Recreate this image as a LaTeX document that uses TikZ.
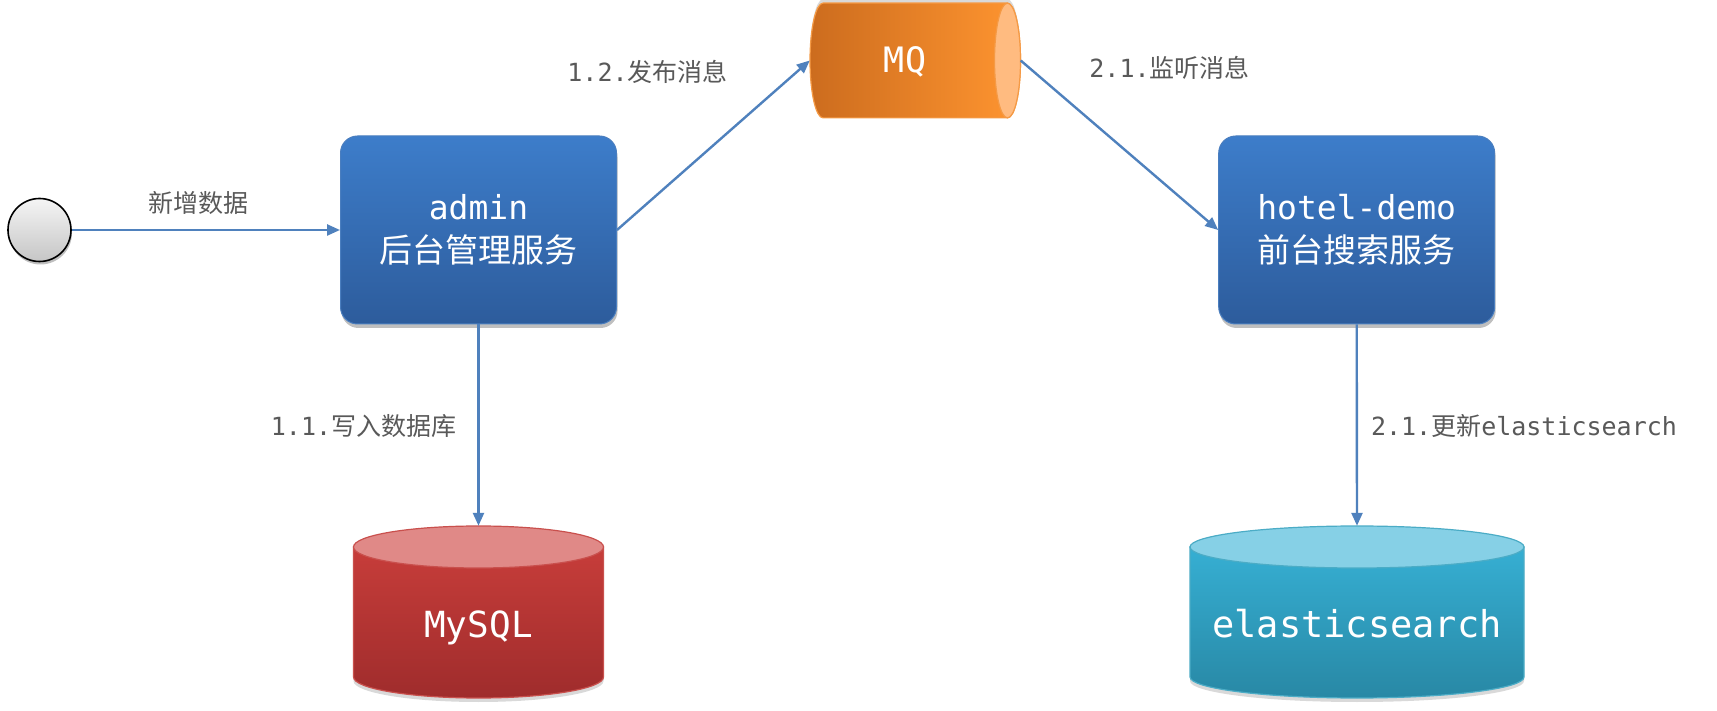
\documentclass[tikz,border=0pt]{standalone}
\usepackage{fontspec}
\setmonofont{DejaVu Sans Mono}
\newfontfamily\cjk{Noto Sans CJK SC}
\usetikzlibrary{arrows.meta,shadows}
\definecolor{arrowblue}{HTML}{4F81BD}
\definecolor{labelgray}{HTML}{595959}
\definecolor{boxtop}{HTML}{3D7DCA}
\definecolor{boxbot}{HTML}{2D5C9C}
\definecolor{boxedge}{HTML}{4A7EBF}
\definecolor{mqleft}{HTML}{CC6C1E}
\definecolor{mqright}{HTML}{FF9530}
\definecolor{mqcap}{HTML}{FFBB80}
\definecolor{mqedge}{HTML}{F59A45}
\definecolor{sqltop}{HTML}{C73D3A}
\definecolor{sqlbot}{HTML}{9F2C2C}
\definecolor{sqlcap}{HTML}{E08987}
\definecolor{sqledge}{HTML}{C9504D}
\definecolor{estop}{HTML}{36AFD3}
\definecolor{esbot}{HTML}{2888A5}
\definecolor{escap}{HTML}{86D0E6}
\definecolor{esedge}{HTML}{4BACC6}
\tikzset{
  svcbox/.style={rounded corners=17pt, minimum width=276pt, minimum height=188pt,
    inner sep=0pt, top color=boxtop, bottom color=boxbot, draw=boxedge, line width=1pt,
    text=white, align=center, font=\fontsize{33}{43}\selectfont,
    drop shadow={shadow xshift=1pt, shadow yshift=-4pt, opacity=0.25, fill=black}},
  flow/.style={draw=arrowblue, line width=2.4pt, -{Triangle[length=13pt,width=11pt]}},
  lbl/.style={text=labelgray, font=\fontsize{25}{30}\selectfont, inner sep=0pt},
  anchorbox/.style={inner sep=0pt, draw=none},
}
\begin{document}
\begin{tikzpicture}[x=1pt,y=1pt]
\useasboundingbox (0,0) rectangle (1717,710);
\fill[white] (0,0) rectangle (1717,710);

% start circle
\node (start) [circle, minimum size=63pt, inner sep=0pt, draw=black, line width=1.6pt,
  top color=white!92!gray, bottom color=gray!45,
  drop shadow={shadow xshift=1pt, shadow yshift=-3pt, opacity=0.25, fill=black}] at (39.5,480) {};

% service boxes
\node (admin) [svcbox] at (478.5,480) {\ttfamily admin\\\cjk 后台管理服务};
\node (hotel) [svcbox] at (1356.7,480) {\ttfamily hotel-demo\\\cjk 前台搜索服务};

% MQ horizontal cylinder
\fill[black, opacity=0.15] (823,596) arc[start angle=270, end angle=90, x radius=13, y radius=57.4]
  -- (1007.5,710.8) arc[start angle=90, end angle=-90, x radius=13, y radius=57.4] -- cycle;
\shade[left color=mqleft, right color=mqright, draw=mqedge, line width=1.2pt]
  (823,592.1) arc[start angle=270, end angle=90, x radius=13, y radius=57.4]
  -- (1007.5,706.9) arc[start angle=90, end angle=-90, x radius=13, y radius=57.4] -- cycle;
\filldraw[fill=mqcap, draw=mqedge, line width=1.2pt] (1007.5,649.5) ellipse[x radius=13, y radius=57.4];
\node (mq) [anchorbox, minimum width=210.5pt, minimum height=114.8pt] at (915.25,649.5) {};
\node (mqtext) [text=white, font=\ttfamily\fontsize{35}{40}\selectfont, inner sep=0pt, anchor=base] at (905,637) {MQ};

% MySQL cylinder
\fill[black, opacity=0.15] (353.5,159) -- (353.5,29) arc[start angle=180, end angle=360, x radius=125, y radius=21] -- (603.5,159) -- cycle;
\shade[top color=sqltop, bottom color=sqlbot, draw=sqledge, line width=1.2pt]
  (353.5,163) -- (353.5,33) arc[start angle=180, end angle=360, x radius=125, y radius=21] -- (603.5,163) -- cycle;
\filldraw[fill=sqlcap, draw=sqledge, line width=1.2pt] (478.5,163) ellipse[x radius=125, y radius=21];
\node (mysql) [anchorbox, minimum width=250pt, minimum height=172pt] at (478.5,98) {};
\node (mysqltext) [text=white, font=\ttfamily\fontsize{36}{40}\selectfont, inner sep=0pt, anchor=base] at (478.5,73) {MySQL};

% elasticsearch cylinder
\fill[black, opacity=0.15] (1190,159) -- (1190,29) arc[start angle=180, end angle=360, x radius=167, y radius=21] -- (1524,159) -- cycle;
\shade[top color=estop, bottom color=esbot, draw=esedge, line width=1.2pt]
  (1190,163) -- (1190,33) arc[start angle=180, end angle=360, x radius=167, y radius=21] -- (1524,163) -- cycle;
\filldraw[fill=escap, draw=esedge, line width=1.2pt] (1357,163) ellipse[x radius=167, y radius=21];
\node (es) [anchorbox, minimum width=334pt, minimum height=172pt] at (1357,98) {};
\node (estext) [text=white, font=\ttfamily\fontsize{37}{40}\selectfont, inner sep=0pt, anchor=base] at (1357,73) {elasticsearch};

% connectors
\draw[flow] (start.east) -- (admin.west);
\draw[flow] (admin.east) -- (mq.west);
\draw[flow] (mq.east) -- (hotel.west);
\draw[flow] (admin.south) -- (mysql.north);
\draw[flow] (hotel.south) -- (es.north);

% labels
\node (l0) [lbl] at (198.7,507.5) {\cjk 新增数据};
\node (l12) [lbl] at (647.5,638.5) {\ttfamily 1.2.\cjk 发布消息};
\node (l21) [lbl] at (1169.5,642.5) {\ttfamily 2.1.\cjk 监听消息};
\node (l11) [lbl] at (363.5,284) {\ttfamily 1.1.\cjk 写入数据库};
\node (l22) [lbl] at (1524,284) {\ttfamily 2.1.\cjk 更新\ttfamily elasticsearch};
\end{tikzpicture}
\end{document}
